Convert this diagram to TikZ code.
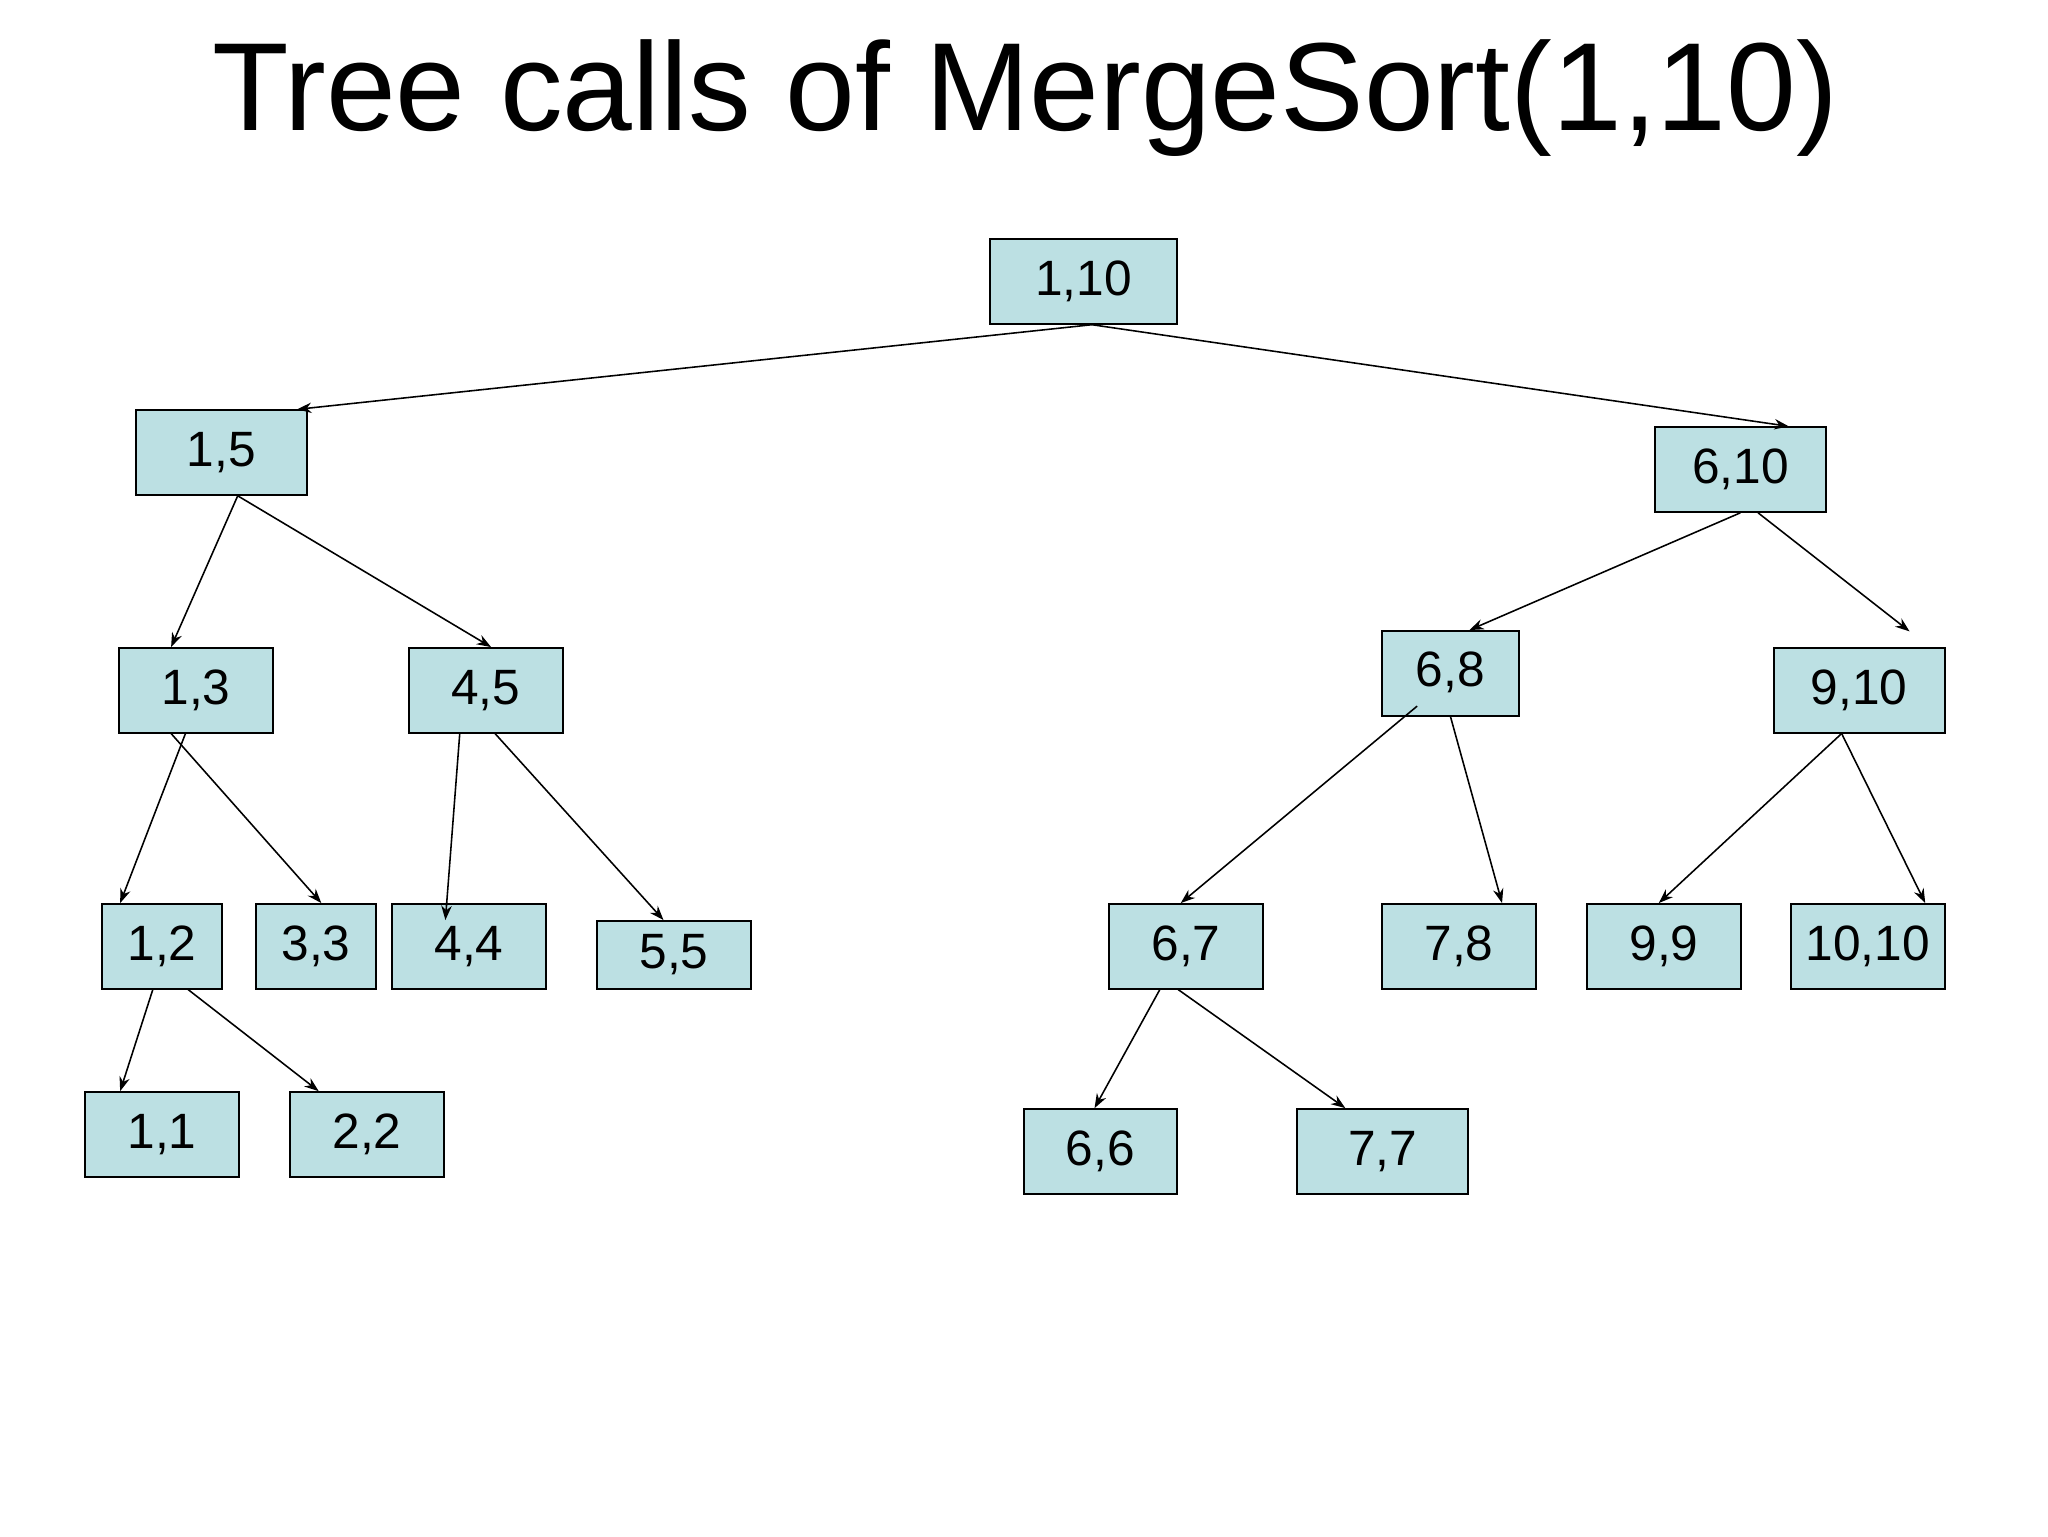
\documentclass[tikz,border=0pt]{standalone}
\usepackage{fontspec}
\setmainfont{Liberation Sans}
\usetikzlibrary{arrows.meta}
\tikzset{
  bx/.style={draw=black, line width=1.2pt, fill=boxc, inner sep=0pt, font=\fontsize{38}{40}\selectfont},
  arr/.style={-{Stealth[length=11pt,width=8pt]}, line width=1.2pt}
}
\definecolor{boxc}{HTML}{BCE0E3}
\newcommand{\bxnode}[6]{\node[bx, minimum width=#4pt, minimum height=#5pt] (#1) at (#2,#3) {#6};}
\begin{document}
\begin{tikzpicture}[x=1pt,y=-1pt]
\useasboundingbox (0,0) rectangle (1568,1176);
\node[font=\fontsize{96}{100}\selectfont] (title) at (785,75) {Tree calls of MergeSort(1,10)};
\bxnode{r}{829.5}{215.5}{143}{65}{1,10}
\bxnode{a}{169.5}{346.5}{131}{65}{1,5}
\bxnode{b}{1332.5}{359.5}{131}{65}{6,10}
\bxnode{c}{150}{528.5}{118}{65}{1,3}
\bxnode{d}{372}{528.5}{118}{65}{4,5}
\node[bx, minimum width=105pt, minimum height=65pt, text depth=0pt] (e) at (1110.5,515.5) {\raisebox{6pt}{6,8}};
\bxnode{f}{1423.5}{528.5}{131}{65}{9,10}
\bxnode{g}{124}{724.5}{92}{65}{1,2}
\bxnode{h}{242}{724.5}{92}{65}{3,3}
\bxnode{i}{359}{724.5}{118}{65}{4,4}
\node[bx, minimum width=118pt, minimum height=52pt] (j) at (516,731) {\raisebox{-4pt}{5,5}};
\bxnode{k}{908}{724.5}{118}{65}{6,7}
\bxnode{l}{1117}{724.5}{118}{65}{7,8}
\bxnode{m}{1274}{724.5}{118}{65}{9,9}
\bxnode{n}{1430}{724.5}{118}{65}{10,10}
\bxnode{o}{124}{868.5}{118}{65}{1,1}
\bxnode{p}{281}{868.5}{118}{65}{2,2}
\bxnode{q}{842.5}{881.5}{117}{65}{6,6}
\bxnode{s}{1058.5}{881.5}{131}{65}{7,7}
\draw[arr] ([xshift=6.5pt]r.south) -- ([xshift=58pt]a.north);
\draw[arr] ([xshift=6.5pt]r.south) -- ([xshift=37pt]b.north);
\draw[arr] ([xshift=12.5pt]a.south) -- ([xshift=-19pt]c.north);
\draw[arr] ([xshift=12.5pt]a.south) -- ([xshift=4pt]d.north);
\draw[arr] (b.south) -- ([xshift=14.5pt]e.north);
\draw[arr] ([xshift=13.5pt]b.south) -- ([xshift=38.5pt,yshift=12pt]f.north);
\draw[arr] ([xshift=-8pt]c.south) -- ([xshift=-32pt]g.north);
\draw[arr] ([xshift=-19pt]c.south) -- ([xshift=4pt]h.north);
\draw[arr] ([xshift=-20pt]d.south) -- ([xshift=-18pt,yshift=-13pt]i.north);
\draw[arr] ([xshift=7pt]d.south) -- ([xshift=-8pt]j.north);
\draw[arr] ([xshift=-25.5pt,yshift=8pt]e.south) -- ([xshift=-4pt]k.north);
\draw[arr] (e.south) -- ([xshift=33pt]l.north);
\draw[arr] ([xshift=-13.5pt]f.south) -- ([xshift=-4pt]m.north);
\draw[arr] ([xshift=-13.5pt]f.south) -- ([xshift=44pt]n.north);
\draw[arr] ([xshift=-7pt]g.south) -- ([xshift=-32pt]o.north);
\draw[arr] ([xshift=20pt]g.south) -- ([xshift=-37pt]p.north);
\draw[arr] ([xshift=-20pt]k.south) -- ([xshift=-4.5pt]q.north);
\draw[arr] ([xshift=-6pt]k.south) -- ([xshift=-28.5pt]s.north);
\end{tikzpicture}
\end{document}
